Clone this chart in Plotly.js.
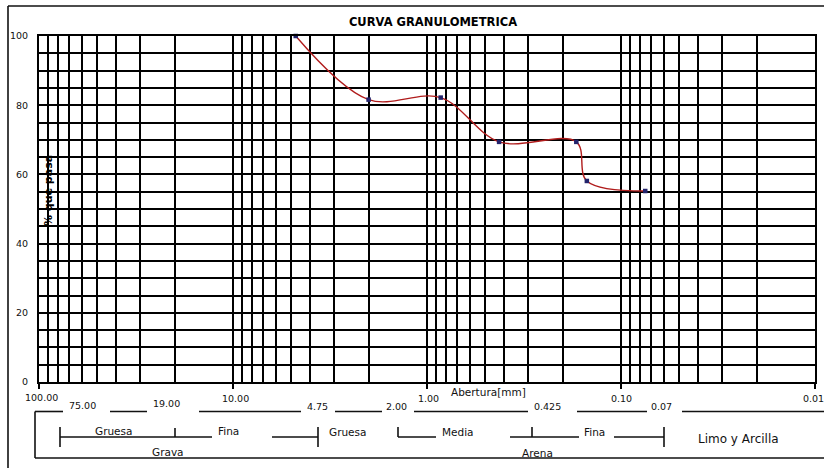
<!DOCTYPE html>
<html>
<head>
<meta charset="utf-8">
<script src="https://cdn.plot.ly/plotly-3.0.1.min.js"></script>
<style>
  html, body { margin: 0; padding: 0; background: #ffffff; }
  #chart { width: 824px; height: 468px; }
</style>
</head>
<body>
<div id="chart"></div>
<script>
// ---- data ----
const sieveSizes = [4.75, 2.00, 0.85, 0.425, 0.17, 0.15, 0.075];   // mm
const percentPassing = [100, 81.6, 82.2, 69.4, 69.4, 58.1, 55.2];    // %
const yTickVals = [0, 20, 40, 60, 80, 100];
const decadeVals = [100, 10, 1, 0.1, 0.01];
const gridDigits = [2, 3, 4, 5, 6, 7, 8, 9];
const sizeLabels = ["100.00", "75.00", "19.00", "10.00", "4.75", "2.00", "1.00", "0.425", "0.10", "0.07", "0.01"];
const classLabels = ["Gruesa", "Fina", "Grava", "Gruesa", "Media", "Fina", "Arena", "Limo y Arcilla"];
const titleText = "CURVA GRANULOMETRICA";
const xTitleText = "Abertura[mm]";
const yTitleText = "% que pasa";

// ---- layout helpers (pixel -> paper) ----
const L = 39, R = 815, T = 36, B = 382;
const W = 824, H = 468;
const X = px => (px - L) / (R - L);
const Y = py => (B - py) / (B - T);

// minor grid lines at 2..9 x each decade
const minorGrid = [];
decadeVals.slice(1).forEach(d => gridDigits.forEach(k => minorGrid.push(k * d)));

// positions of the labels (pixels)
const sizeLabelPos = [[41,397],[82,405],[166,403],[235,399],[317,406],[396,406],[428,399],[547,406],[621,399],[661,406],[813,399]];
const classLabelPos = [[113,431],[228,431],[168,452],[347,432],[458,432],[594,432],[537,453],[738,439]];

const annotations = [];
sizeLabels.forEach((t, i) => annotations.push({
  text: t, xref: 'paper', yref: 'paper', x: X(sizeLabelPos[i][0]), y: Y(sizeLabelPos[i][1]),
  xanchor: 'center', yanchor: 'middle', showarrow: false,
  font: { family: 'DejaVu Sans', size: 9.5, color: '#111' }
}));
classLabels.forEach((t, i) => annotations.push({
  text: t, xref: 'paper', yref: 'paper', x: X(classLabelPos[i][0]), y: Y(classLabelPos[i][1]),
  xanchor: 'center', yanchor: 'middle', showarrow: false,
  font: { family: 'DejaVu Sans', size: i === 7 ? 12 : 10.5, color: '#111' }
}));
annotations.push({
  text: xTitleText, xref: 'paper', yref: 'paper', x: X(488), y: Y(392),
  xanchor: 'center', yanchor: 'middle', showarrow: false,
  font: { family: 'DejaVu Sans', size: 10.5, color: '#111' }
});
annotations.push({
  text: '<b>' + yTitleText + '</b>', xref: 'paper', yref: 'paper', x: X(48), y: Y(191),
  xanchor: 'center', yanchor: 'middle', showarrow: false, textangle: -90,
  font: { family: 'DejaVu Sans', size: 11, color: '#000' }
});

// bottom classification diagram lines (pixels)
const segs = [
  // outer frame of chart
  [8,6,830,6],[8,6,8,470],
  // bracket and upper row
  [35,411.5,35,458],[35,458,830,458],
  [35,411.5,63,411.5],[110,411.5,147,411.5],[199,411.5,301,411.5],[335,411.5,382,411.5],
  [414,411.5,528,411.5],[577,411.5,647,411.5],[682,411.5,830,411.5],
  // lower row
  [60,427,60,447],[60,437,212,437],[175,428,175,437],
  [272,437,318,437],[318,427,318,447],
  [398,427,398,437],[398,437,436,437],
  [510,437,579,437],[532,427,532,437],
  [614,437,664,437],[664,427,664,447]
];
const shapes = segs.map(s => ({
  type: 'line', xref: 'paper', yref: 'paper',
  x0: X(s[0]), y0: Y(s[1]), x1: X(s[2]), y1: Y(s[3]),
  line: { color: '#111', width: 1.6 }
}));

const trace = {
  x: sieveSizes, y: percentPassing, type: 'scatter', mode: 'lines+markers',
  line: { color: '#b01c1c', width: 1.4, shape: 'spline', smoothing: 1 },
  marker: { symbol: 'square', size: 4.5, color: '#23236b' },
  hoverinfo: 'x+y', cliponaxis: false
};

const layout = {
  width: W, height: H,
  margin: { l: L, r: W - R, t: T, b: H - B },
  paper_bgcolor: '#ffffff', plot_bgcolor: '#ffffff',
  showlegend: false,
  title: {
    text: '<b>' + titleText + '</b>', x: X(433), xref: 'paper', xanchor: 'center',
    y: 1 - 22 / H, yanchor: 'middle',
    font: { family: 'DejaVu Sans', size: 11.5, color: '#000' }
  },
  xaxis: {
    type: 'log', range: [2, -2], autorange: false,
    tickmode: 'array', tickvals: decadeVals, showticklabels: false,
    ticks: 'outside', ticklen: 5, tickwidth: 2, tickcolor: '#000',
    showgrid: true, gridcolor: '#000', gridwidth: 2,
    showline: true, linecolor: '#000', linewidth: 2, mirror: true,
    zeroline: false,
    minor: { tickmode: 'array', tickvals: minorGrid, showgrid: true, gridcolor: '#000', gridwidth: 2, ticks: '' }
  },
  yaxis: {
    range: [0, 100], autorange: false,
    tickmode: 'array', tickvals: yTickVals, ticktext: yTickVals.map(String),
    ticks: 'outside', ticklen: 7, tickcolor: 'rgba(0,0,0,0)',
    tickfont: { family: 'DejaVu Sans', size: 9.5, color: '#111' },
    showgrid: true, gridcolor: '#000', gridwidth: 2,
    showline: true, linecolor: '#000', linewidth: 2, mirror: true,
    zeroline: false,
    minor: { dtick: 5, showgrid: true, gridcolor: '#000', gridwidth: 2, ticks: '' }
  },
  annotations: annotations,
  shapes: shapes
};

Plotly.newPlot('chart', [trace], layout, { displayModeBar: false, staticPlot: true });
</script>
</body>
</html>
